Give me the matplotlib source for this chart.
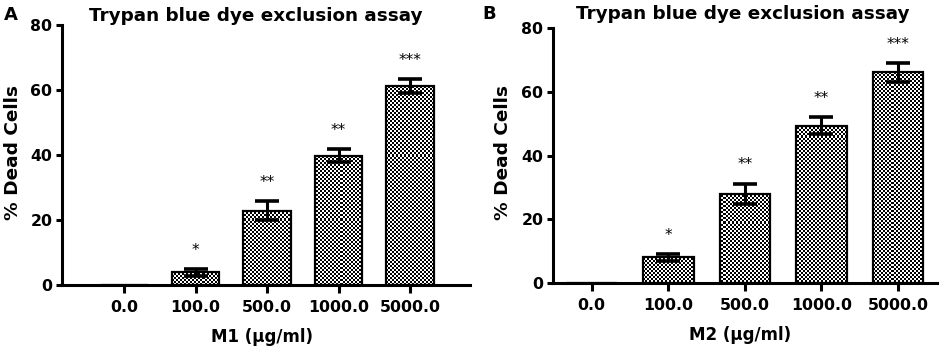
import matplotlib
matplotlib.use("Agg")
import matplotlib.pyplot as plt
import numpy as np

plt.rcParams['font.family'] = ['DejaVu Sans']

categories = ["0.0", "100.0", "500.0", "1000.0", "5000.0"]
m1_values = [0.0, 3.9, 22.9, 39.7, 61.3]
m1_errors = [0.0, 1.0, 2.9, 2.0, 2.1]
m1_stars = ["", "*", "**", "**", "***"]
m2_values = [0.0, 8.1, 28.0, 49.4, 66.1]
m2_errors = [0.0, 1.0, 3.2, 2.6, 3.0]
m2_stars = ["", "*", "**", "**", "***"]
yticks = [0, 20, 40, 60, 80]

W, H = 941, 354
fig = plt.figure(figsize=(W / 100, H / 100), dpi=100)


def make_axes(left, right, top, bottom, xlim, values, errors, stars, xlabel, letter,
              letter_xy, title_x, title_y, ylabel_x, xlabel_x, xlabel_y):
    ax = fig.add_axes([left / W, (H - bottom) / H, (right - left) / W, (bottom - top) / H])
    x = np.arange(len(categories))
    bars = ax.bar(x, values, width=0.66, facecolor='none', edgecolor='black',
                  linewidth=1.6, zorder=3)
    # checkerboard fill, clipped to each bar
    pw, ph = int(round(right - left)), int(round(bottom - top))
    ii, jj = np.indices((ph, pw))
    checker = ((ii // 2 + jj // 2) % 2).astype(float)
    for b, v in zip(bars, values):
        if v <= 0:
            continue
        im = ax.imshow(checker, cmap='gray', vmin=0, vmax=1, extent=(xlim[0], xlim[1], 0, 80),
                       aspect='auto', interpolation='nearest', zorder=2, origin='upper')
        im.set_clip_path(b)
    for xi, v, e in zip(x, values, errors):
        if e > 0:
            ax.errorbar(xi, v, yerr=e, fmt='none', ecolor='black', elinewidth=2.2,
                        capsize=8.5, capthick=2.6, zorder=4)
    for xi, v, e, s in zip(x, values, errors, stars):
        if s:
            ax.annotate(s, (xi, v + e), xytext=(0, 13.5), textcoords='offset points',
                        ha='center', va='center', fontsize=11)
    ax.set_xlim(*xlim)
    ax.set_ylim(0, 80)
    ax.set_yticks(yticks)
    ax.set_xticks(x)
    ax.set_xticklabels(categories)
    for sp in ['top', 'right']:
        ax.spines[sp].set_visible(False)
    for sp in ['left', 'bottom']:
        ax.spines[sp].set_linewidth(2.2)
        ax.spines[sp].set_zorder(5)
    ax.tick_params(axis='x', length=6, width=2.2, pad=4.5, labelsize=11.3)
    ax.tick_params(axis='y', length=4, width=2.2, pad=3, labelsize=11.3)
    for lab in ax.get_xticklabels() + ax.get_yticklabels():
        lab.set_fontweight('bold')
    fig.text(title_x / W, 1 - title_y / H, "Trypan blue dye exclusion assay",
             ha='center', va='center', fontsize=13.2, fontweight='bold')
    fig.text(letter_xy[0] / W, 1 - letter_xy[1] / H, letter, ha='left', va='center',
             fontsize=13, fontweight='bold')
    fig.text(ylabel_x / W, 1 - ((top + bottom) / 2 - 3) / H, "% Dead Cells", rotation=90,
             ha='center', va='center', fontsize=13.3, fontweight='bold')
    fig.text(xlabel_x / W, 1 - xlabel_y / H, xlabel, ha='center', va='center',
             fontsize=12, fontweight='bold')
    return ax


axA = make_axes(62, 470, 25, 285, (-0.87, 4.84), m1_values, m1_errors, m1_stars,
                "M1 (\u03bcg/ml)", "A", (4, 15), 256, 16, 13, 262, 337)
axB = make_axes(553, 937, 28, 283.3, (-0.505, 4.51), m2_values, m2_errors, m2_stars,
                "M2 (\u03bcg/ml)", "B", (482, 14), 743, 14, 503, 740, 335)

fig.savefig("out.png", dpi=100)
